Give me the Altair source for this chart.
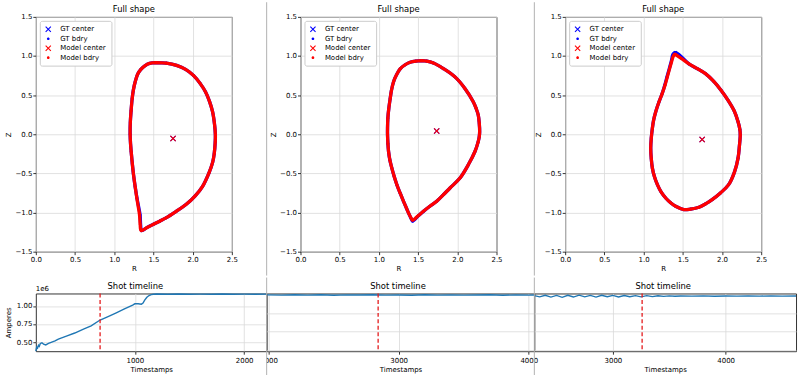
import altair as alt
import pandas as pd

FONT = "DejaVu Sans"
SERIES = ["GT center", "GT bdry", "Model center", "Model bdry"]
SERIES_COLORS = ["blue", "blue", "red", "red"]
X_PATH = "M-1,-0.75L-0.75,-1L0,-0.25L0.75,-1L1,-0.75L0.25,0L1,0.75L0.75,1L0,0.25L-0.75,1L-1,0.75L-0.25,0Z"
DOT_PATH = "M0,-0.45A0.45,0.45,0,1,1,0,0.45A0.45,0.45,0,1,1,0,-0.45Z"
SERIES_SHAPES = [X_PATH, DOT_PATH, X_PATH, DOT_PATH]
R_TICKS = [0.0, 0.5, 1.0, 1.5, 2.0, 2.5]
Z_TICKS = [-1.5, -1.0, -0.5, 0.0, 0.5, 1.0, 1.5]
SEP = "#b0b0b0"
TOP_TITLE = "Full shape"
BOTTOM_TITLE = "Shot timeline"

# ---------------- shape 1 ----------------
s1_model_R = [1.534, 1.45, 1.39, 1.34, 1.30, 1.27, 1.245, 1.229, 1.215, 1.205, 1.203,
              1.208, 1.216, 1.23, 1.246, 1.267, 1.288, 1.307, 1.322, 1.331, 1.343,
              1.42, 1.50, 1.58, 1.661, 1.79, 1.915, 2.03, 2.127, 2.21, 2.255, 2.275,
              2.288, 2.29, 2.28, 2.254, 2.215, 2.165, 2.095, 2.01, 1.91, 1.795, 1.665, 1.534]
s1_model_Z = [0.915, 0.905, 0.875, 0.83, 0.77, 0.68, 0.57, 0.458, 0.30, 0.15, 0.0,
              -0.12, -0.22, -0.37, -0.517, -0.67, -0.814, -0.93, -1.025, -1.153, -1.229,
              -1.19, -1.15, -1.11, -1.068, -0.985, -0.898, -0.79, -0.665, -0.49, -0.36, -0.25,
              -0.10, -0.008, 0.12, 0.288, 0.42, 0.54, 0.65, 0.752, 0.83, 0.88, 0.908, 0.915]
s1_gt_R = [1.534, 1.45, 1.39, 1.34, 1.30, 1.27, 1.245, 1.229, 1.215, 1.205, 1.203,
           1.208, 1.216, 1.23, 1.246, 1.267, 1.29, 1.312, 1.33, 1.337, 1.35,
           1.42, 1.50, 1.58, 1.661, 1.79, 1.915, 2.03, 2.127, 2.21, 2.255, 2.275,
           2.288, 2.29, 2.28, 2.254, 2.215, 2.165, 2.095, 2.01, 1.91, 1.795, 1.665, 1.534]
s1_gt_Z = [0.915, 0.905, 0.875, 0.83, 0.77, 0.68, 0.57, 0.458, 0.30, 0.15, 0.0,
           -0.12, -0.22, -0.37, -0.517, -0.67, -0.814, -0.93, -1.03, -1.16, -1.232,
           -1.19, -1.15, -1.11, -1.068, -0.985, -0.898, -0.79, -0.665, -0.49, -0.36, -0.25,
           -0.10, -0.008, 0.12, 0.288, 0.42, 0.54, 0.65, 0.752, 0.83, 0.88, 0.908, 0.915]
s1_center = [1.75, -0.055]

# ---------------- shape 2 ----------------
s2_model_R = [1.547, 1.47, 1.398, 1.33, 1.271, 1.225, 1.186, 1.16, 1.144, 1.125, 1.114,
              1.11, 1.11, 1.115, 1.123, 1.14, 1.165, 1.195, 1.229, 1.27, 1.314, 1.35,
              1.377, 1.405, 1.428, 1.50, 1.568, 1.65, 1.737, 1.82, 1.907, 2.034, 2.14,
              2.225, 2.265, 2.28, 2.285, 2.28, 2.267, 2.24, 2.203, 2.097, 1.97, 1.822,
              1.695, 1.61, 1.547]
s2_model_Z = [0.94, 0.935, 0.92, 0.885, 0.835, 0.76, 0.669, 0.56, 0.458, 0.32, 0.203,
              0.08, -0.008, -0.12, -0.22, -0.33, -0.432, -0.54, -0.644, -0.75, -0.856, -0.94,
              -1.004, -1.06, -1.097, -1.04, -0.983, -0.92, -0.856, -0.775, -0.686, -0.559, -0.39,
              -0.22, -0.10, -0.03, 0.034, 0.14, 0.246, 0.33, 0.415, 0.585, 0.733, 0.839,
              0.91, 0.935, 0.94]
s2_gt_R = [1.547, 1.47, 1.398, 1.33, 1.271, 1.225, 1.186, 1.16, 1.144, 1.125, 1.114,
           1.11, 1.11, 1.115, 1.123, 1.14, 1.165, 1.195, 1.229, 1.27, 1.314, 1.352,
           1.38, 1.408, 1.43, 1.50, 1.568, 1.65, 1.737, 1.82, 1.907, 2.034, 2.14,
           2.225, 2.265, 2.28, 2.285, 2.28, 2.267, 2.24, 2.203, 2.097, 1.97, 1.822,
           1.695, 1.61, 1.547]
s2_gt_Z = [0.94, 0.935, 0.92, 0.885, 0.835, 0.76, 0.669, 0.56, 0.458, 0.32, 0.203,
           0.08, -0.008, -0.12, -0.22, -0.33, -0.432, -0.54, -0.644, -0.75, -0.856, -0.945,
           -1.01, -1.07, -1.11, -1.045, -0.985, -0.92, -0.856, -0.775, -0.686, -0.559, -0.39,
           -0.22, -0.10, -0.03, 0.034, 0.14, 0.246, 0.33, 0.415, 0.585, 0.733, 0.839,
           0.91, 0.935, 0.94]
s2_center = [1.737, 0.042]

# ---------------- shape 3 ----------------
s3_model_R = [1.40, 1.48, 1.578, 1.69, 1.789, 1.895, 1.99, 2.08, 2.155, 2.205, 2.228, 2.233,
              2.222, 2.205, 2.16, 2.085, 1.98, 1.874, 1.79, 1.705, 1.60, 1.514, 1.409, 1.345,
              1.282, 1.225, 1.176, 1.138, 1.112, 1.098, 1.091, 1.098, 1.112, 1.128, 1.155,
              1.197, 1.237, 1.273, 1.303, 1.332, 1.358, 1.38, 1.40]
s3_model_Z = [1.025, 0.97, 0.90, 0.835, 0.775, 0.675, 0.56, 0.43, 0.30, 0.16, 0.06, -0.008,
              -0.15, -0.305, -0.48, -0.644, -0.75, -0.835, -0.89, -0.932, -0.955, -0.962, -0.92,
              -0.875, -0.814, -0.74, -0.644, -0.54, -0.432, -0.31, -0.178, -0.05, 0.076, 0.18,
              0.288, 0.415, 0.52, 0.627, 0.735, 0.839, 0.93, 1.00, 1.025]
s3_gt_R = [1.405, 1.45, 1.578, 1.69, 1.789, 1.895, 1.99, 2.08, 2.155, 2.205, 2.228, 2.233,
           2.222, 2.205, 2.16, 2.085, 1.98, 1.874, 1.79, 1.705, 1.60, 1.514, 1.409, 1.345,
           1.282, 1.225, 1.176, 1.138, 1.112, 1.098, 1.091, 1.098, 1.112, 1.128, 1.155,
           1.197, 1.237, 1.27, 1.299, 1.328, 1.353, 1.375, 1.405]
s3_gt_Z = [1.048, 1.02, 0.90, 0.835, 0.775, 0.675, 0.56, 0.43, 0.30, 0.16, 0.06, -0.008,
           -0.15, -0.305, -0.48, -0.644, -0.75, -0.835, -0.89, -0.932, -0.955, -0.962, -0.92,
           -0.875, -0.814, -0.74, -0.644, -0.54, -0.432, -0.31, -0.178, -0.05, 0.076, 0.18,
           0.288, 0.415, 0.52, 0.627, 0.735, 0.839, 0.93, 1.02, 1.048]
s3_center = [1.747, -0.068]

# ---------------- timelines (Amperes, 1e6) ----------------
t1 = [94, 102, 110, 118, 126, 135, 150, 165, 185, 210, 240, 270, 300, 380, 450, 530, 600,
      682, 750, 830, 900, 980, 1000, 1030, 1060, 1075, 1090, 1110, 1130, 1150, 1170, 1200,
      1300, 1400, 1500, 1600, 1700, 1800, 1900, 2000, 2100, 2206]
v1 = [0.375, 0.43, 0.415, 0.455, 0.44, 0.48, 0.49, 0.47, 0.46, 0.48, 0.50, 0.515, 0.54, 0.585,
      0.625, 0.68, 0.725, 0.805, 0.85, 0.905, 0.955, 1.012, 1.03, 1.03, 1.025, 1.04, 1.08,
      1.12, 1.145, 1.158, 1.163, 1.165, 1.163, 1.165, 1.162, 1.164, 1.163, 1.165, 1.162,
      1.164, 1.163, 1.164]
t2 = [1985, 2100, 2200, 2300, 2400, 2500, 2600, 2700, 2800, 2900, 3000, 3100, 3200, 3300,
      3400, 3500, 3600, 3700, 3800, 3900, 4000, 4043]
v2 = [1.256, 1.252, 1.258, 1.253, 1.257, 1.251, 1.256, 1.254, 1.258, 1.252, 1.255, 1.251,
      1.257, 1.253, 1.256, 1.252, 1.254, 1.258, 1.251, 1.255, 1.253, 1.254]
t3 = [2303, 2350, 2400, 2450, 2500, 2550, 2600, 2650, 2700, 2750, 2800, 2850, 2900, 2950,
      3000, 3050, 3100, 3150, 3200, 3250, 3300, 3350, 3400, 3450, 3500, 3550, 3600, 3700,
      3800, 3900, 4000, 4100, 4200, 4300, 4400, 4500, 4624]
v3 = [1.245, 1.228, 1.25, 1.225, 1.248, 1.222, 1.25, 1.226, 1.252, 1.228, 1.248, 1.225,
      1.25, 1.23, 1.248, 1.226, 1.246, 1.23, 1.245, 1.228, 1.245, 1.232, 1.244, 1.235,
      1.242, 1.236, 1.241, 1.238, 1.242, 1.237, 1.240, 1.238, 1.241, 1.239, 1.240, 1.238,
      1.240]
markers = [682, 2842, 3259]


def title_text(label, xpos, ypos):
    return alt.Chart(pd.DataFrame({"label": [label]})).mark_text(
        align="center", baseline="alphabetic", fontSize=8.4, font=FONT, color="black").encode(
        x=alt.value(xpos), y=alt.value(ypos), text="label:N")


def shape_panel(mR, mZ, gR, gZ, center, sep_x=None):
    gt_b = pd.DataFrame({"R": gR, "Z": gZ, "i": list(range(len(gR)))})
    md_b = pd.DataFrame({"R": mR, "Z": mZ, "i": list(range(len(mR)))})
    gt_p = pd.concat([
        pd.DataFrame({"R": [center[0]], "Z": [center[1]], "series": ["GT center"]}),
        pd.DataFrame({"R": gR, "Z": gZ, "series": ["GT bdry"] * len(gR)}),
    ])
    md_p = pd.concat([
        pd.DataFrame({"R": [center[0]], "Z": [center[1]], "series": ["Model center"]}),
        pd.DataFrame({"R": mR, "Z": mZ, "series": ["Model bdry"] * len(mR)}),
    ])
    x = alt.X("R:Q", scale=alt.Scale(domain=[0, 2.5], nice=False, zero=False),
              axis=alt.Axis(values=R_TICKS, format=".1f", title="R"))
    y = alt.Y("Z:Q", scale=alt.Scale(domain=[-1.5, 1.5], nice=False, zero=False),
              axis=alt.Axis(values=Z_TICKS, format=".1f", title="Z"))
    leg = alt.Legend(title=None, orient="top-left", offset=3.5)
    color = alt.Color("series:N", scale=alt.Scale(domain=SERIES, range=SERIES_COLORS), legend=leg)
    shape = alt.Shape("series:N", scale=alt.Scale(domain=SERIES, range=SERIES_SHAPES), legend=leg)
    gl = alt.Chart(gt_b).mark_line(color="blue", strokeWidth=3.3, interpolate="catmull-rom").encode(
        x=x, y=y, order="i:Q")
    gp = alt.Chart(gt_p).mark_point(filled=True, size=36, opacity=1, strokeWidth=0).encode(
        x=x, y=y, color=color, shape=shape)
    ml = alt.Chart(md_b).mark_line(color="red", strokeWidth=3.3, interpolate="catmull-rom").encode(
        x=x, y=y, order="i:Q")
    mp = alt.Chart(md_p).mark_point(filled=True, size=36, opacity=1, strokeWidth=0).encode(
        x=x, y=y, color=color, shape=shape)
    layers = [gl, gp, ml, mp, title_text(TOP_TITLE, 98.5, -5)]
    if sep_x is not None:
        layers.append(alt.Chart(pd.DataFrame({"a": [0]})).mark_rule(color=SEP, strokeWidth=1).encode(
            x=alt.value(sep_x), y=alt.value(-14.7), y2=alt.value(260)))
    return alt.layer(*layers).properties(width=197, height=236)


def timeline_panel(t, v, xdom, ydom, xticks, marker, width, first, title_x, sep=False, mask=False):
    df = pd.DataFrame({"t": t, "v": v})
    x = alt.X("t:Q", scale=alt.Scale(domain=xdom, nice=False, zero=False),
              axis=alt.Axis(values=xticks, format="d", title="Timestamps", labelPadding=2.5))
    if first:
        yax = alt.Axis(values=[0.5, 0.75, 1.0], format=".2f", title="Amperes")
    else:
        yax = alt.Axis(values=[0.5, 0.75, 1.0], labels=False, ticks=False, title=None)
    y = alt.Y("v:Q", scale=alt.Scale(domain=ydom, nice=False, zero=False), axis=yax)
    layers = []
    if mask:
        layers.append(alt.Chart(pd.DataFrame({"a": [0]})).mark_rect(color="white").encode(
            x=alt.value(-10), x2=alt.value(0), y=alt.value(60), y2=alt.value(71)))
    layers.append(alt.Chart(df).mark_line(color="#1f77b4", strokeWidth=1.4).encode(x=x, y=y))
    layers.append(alt.Chart(pd.DataFrame({"t": [marker]})).mark_rule(
        color="#e41a1c", strokeDash=[4, 2.5], strokeWidth=1.3).encode(x="t:Q"))
    if first:
        layers.append(alt.Chart(pd.DataFrame({"txt": ["1e6"]})).mark_text(
            align="left", baseline="alphabetic", fontSize=7, font=FONT, color="black").encode(
            x=alt.value(0), y=alt.value(-2), text="txt:N"))
    layers.append(title_text(BOTTOM_TITLE, title_x, -4.2))
    if sep:
        layers.append(alt.Chart(pd.DataFrame({"a": [0]})).mark_rule(color=SEP, strokeWidth=1).encode(
            x=alt.value(0), y=alt.value(-16), y2=alt.value(84)))
    return alt.layer(*layers).properties(width=width, height=58)


top_row = alt.hconcat(
    shape_panel(s1_model_R, s1_model_Z, s1_gt_R, s1_gt_Z, s1_center),
    shape_panel(s2_model_R, s2_model_Z, s2_gt_R, s2_gt_Z, s2_center, sep_x=-34),
    shape_panel(s3_model_R, s3_model_Z, s3_gt_R, s3_gt_Z, s3_center, sep_x=-31),
    spacing=69, bounds="flush",
).resolve_scale(x="independent", y="independent", color="independent", shape="independent")

bottom_row = alt.hconcat(
    timeline_panel(t1, v1, [94, 2206], [0.373, 1.173], [1000, 2000], markers[0], 232, True, 100),
    timeline_panel(t2, v2, [1985, 4043], [0.48, 1.275], [2000, 3000, 4000], markers[1], 269, False, 132,
                   sep=True, mask=True),
    timeline_panel(t3, v3, [2303, 4624], [0.48, 1.275], [3000, 4000], markers[2], 263, False, 129.5,
                   sep=True),
    spacing=0, bounds="flush",
).resolve_scale(x="independent", y="independent")

chart = alt.vconcat(top_row, bottom_row, spacing=0, bounds="full").properties(
    padding={"left": 4, "top": 0, "right": 0, "bottom": 0},
    background="white",
).configure(font=FONT).configure_view(
    stroke="#333333", strokeWidth=1, fill="white"
).configure_axis(
    labelFont=FONT, labelFontSize=7, labelColor="black", labelFlush=False,
    titleFont=FONT, titleFontSize=7, titleFontWeight="normal", titleColor="black",
    tickColor="black", tickSize=3, tickWidth=0.8, labelPadding=1, domain=False,
    gridColor="#d9d9d9", gridWidth=0.8,
).configure_axisY(minExtent=22, maxExtent=22, titlePadding=2).configure_axisX(titlePadding=2).configure_legend(
    fillColor="white", strokeColor="#cccccc", cornerRadius=2, padding=5,
    labelFont=FONT, labelFontSize=7, labelColor="black", symbolSize=36,
    rowPadding=1.5, labelOffset=8.5, symbolOpacity=1, symbolStrokeWidth=0,
)

chart.save("out.html", embed_options={"renderer": "svg", "actions": False})
